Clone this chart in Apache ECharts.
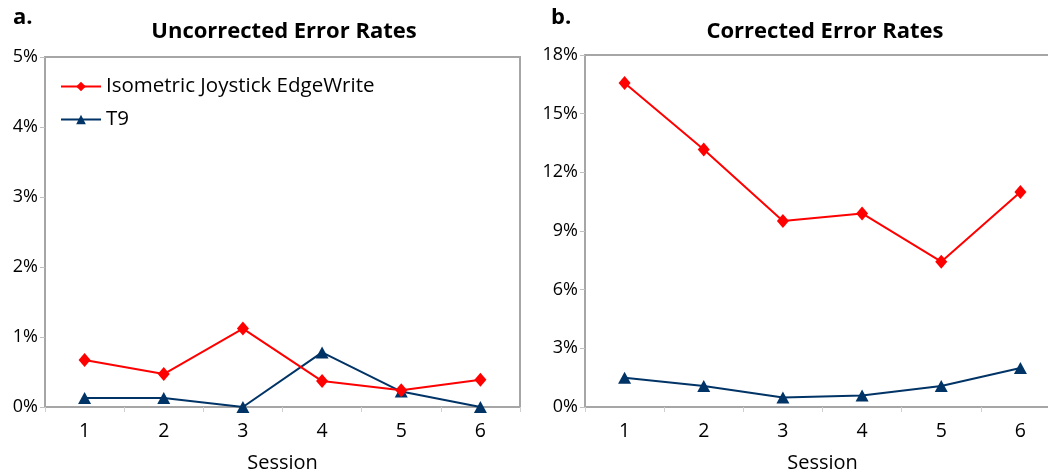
<!DOCTYPE html>
<html>
<head>
<meta charset="utf-8">
<script src="https://cdn.jsdelivr.net/npm/echarts@6/dist/echarts.min.js"></script>
<style>
html,body{margin:0;padding:0;background:#fff;}
#chart{width:1048px;height:472px;}
</style>
</head>
<body>
<div id="chart"></div>
<script>
const sessions = ['1', '2', '3', '4', '5', '6'];
const seriesNames = ['Isometric Joystick EdgeWrite', 'T9'];
const uncorrectedEdgeWrite = [0.67, 0.47, 1.12, 0.37, 0.24, 0.39];
const uncorrectedT9 = [0.13, 0.13, 0.0, 0.78, 0.22, 0.0];
const correctedEdgeWrite = [16.57, 13.17, 9.51, 9.90, 7.43, 10.99];
const correctedT9 = [1.50, 1.07, 0.49, 0.59, 1.07, 1.99];
const panelLabels = ['a.', 'b.'];
const panelTitles = ['Uncorrected Error Rates', 'Corrected Error Rates'];
const xAxisName = 'Session';

const FONT = 'Open Sans';
const GRAY = '#a6a6a6';
const RED = '#ff0000';
const BLUE = '#003366';

function xAxis(gridIndex) {
  return {
    type: 'category', gridIndex, data: sessions, boundaryGap: true,
    name: xAxisName, nameLocation: 'middle', nameGap: 46,
    nameTextStyle: { fontFamily: FONT, fontSize: 20, color: '#000' },
    axisLine: { lineStyle: { color: GRAY, width: 2 } },
    axisTick: { show: true, length: 5, lineStyle: { color: '#d0d0d0', width: 1 } },
    axisLabel: { fontFamily: FONT, fontSize: 19.5, color: '#000', margin: 14 },
    splitLine: { show: false }
  };
}
function yAxis(gridIndex, max, interval) {
  return {
    type: 'value', gridIndex, min: 0, max, interval,
    axisLine: { show: true, lineStyle: { color: GRAY, width: 2 } },
    axisTick: { show: true, length: 5, lineStyle: { color: '#c0c0c0', width: 1 } },
    axisLabel: { fontFamily: FONT, fontSize: 18, color: '#000', margin: 7, formatter: '{value}%' },
    splitLine: { show: false }
  };
}
function lineSeries(name, data, idx, color, symbol, size) {
  return {
    name, type: 'line', data, xAxisIndex: idx, yAxisIndex: idx,
    symbol, symbolSize: size, showAllSymbol: true,
    lineStyle: { color, width: 2 },
    itemStyle: { color },
    z: name === 'T9' ? 3 : 4
  };
}

const chart = echarts.init(document.getElementById('chart'), null, { renderer: 'canvas' });
chart.setOption({
  animation: false,
  backgroundColor: '#fff',
  title: [
    { text: panelLabels[0], left: 8, top: 2, textStyle: { fontFamily: FONT, fontSize: 22, fontWeight: 'bold', color: '#000' } },
    { text: panelLabels[1], left: 546, top: 2, textStyle: { fontFamily: FONT, fontSize: 22, fontWeight: 'bold', color: '#000' } },
    { text: panelTitles[0], left: 279, textAlign: 'center', top: 16, textStyle: { fontFamily: FONT, fontSize: 22, fontWeight: 'bold', color: '#000' } },
    { text: panelTitles[1], left: 820, textAlign: 'center', top: 16, textStyle: { fontFamily: FONT, fontSize: 22, fontWeight: 'bold', color: '#000' } }
  ],
  legend: {
    data: seriesNames, orient: 'vertical', left: 55, top: 71,
    itemWidth: 40, itemHeight: 12, itemGap: 12,
    textStyle: { fontFamily: FONT, fontSize: 20.5, color: '#000' }
  },
  grid: [
    { left: 45, top: 57, width: 475, height: 350, show: true, borderColor: GRAY, borderWidth: 2, backgroundColor: '#fff', containLabel: false, outerBoundsMode: 'none' },
    { left: 585, top: 55, width: 475, height: 352, show: true, borderColor: GRAY, borderWidth: 2, backgroundColor: '#fff', containLabel: false, outerBoundsMode: 'none' }
  ],
  xAxis: [xAxis(0), xAxis(1)],
  yAxis: [yAxis(0, 5, 1), yAxis(1, 18, 3)],
  series: [
    lineSeries(seriesNames[0], uncorrectedEdgeWrite, 0, RED, 'diamond', [12, 14]),
    lineSeries(seriesNames[1], uncorrectedT9, 0, BLUE, 'triangle', [13, 12]),
    lineSeries(seriesNames[0], correctedEdgeWrite, 1, RED, 'diamond', [12, 14]),
    lineSeries(seriesNames[1], correctedT9, 1, BLUE, 'triangle', [13, 12])
  ]
});
</script>
</body>
</html>
